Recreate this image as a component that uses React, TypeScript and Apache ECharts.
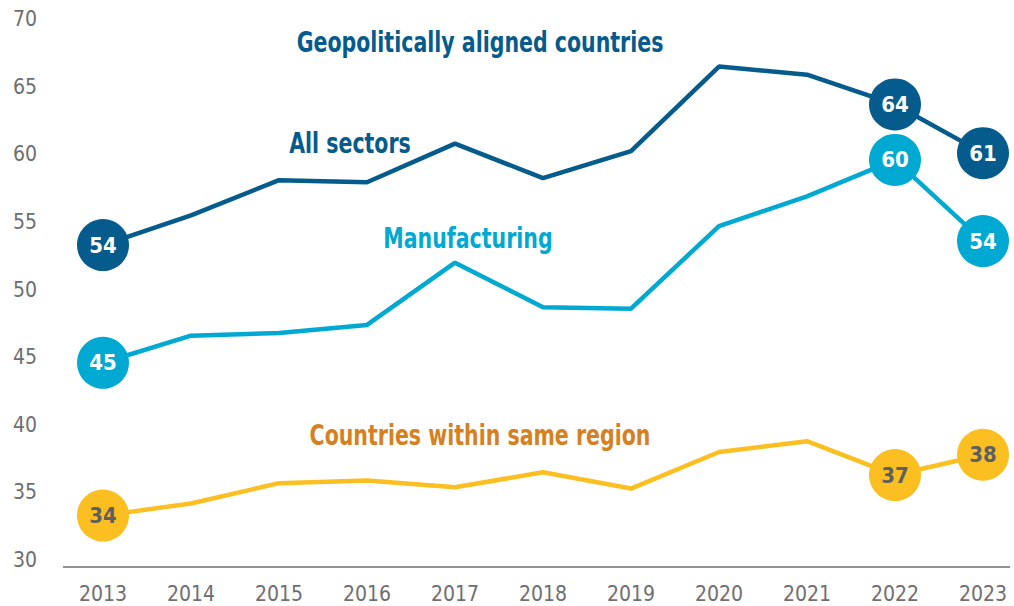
import { useEffect, useRef } from "react";
import * as echarts from "echarts";

const years = ["2013", "2014", "2015", "2016", "2017", "2018", "2019", "2020", "2021", "2022", "2023"];
const allSectors = [53.8, 56.0, 58.6, 58.45, 61.3, 58.75, 60.75, 67.0, 66.4, 64.2, 60.6];
const manufacturing = [45.1, 47.1, 47.3, 47.9, 52.5, 49.2, 49.1, 55.2, 57.4, 60.1, 54.1];
const sameRegion = [33.8, 34.7, 36.2, 36.4, 35.9, 37.0, 35.8, 38.5, 39.3, 36.8, 38.3];
const markedIdx = [0, 9, 10];
const yMin = 30;
const yMax = 70;
const yStep = 5;

const FONT = "'Liberation Sans Narrow', 'DejaVu Sans Condensed', 'Arial Narrow', sans-serif";
const DARK = "#045b8c";
const LIGHT = "#00a9d2";
const YELLOW = "#fbbf22";
const ORANGE = "#d6801f";
const GRAY = "#6d6e71";

function buildData(values: number[], labelColor: string) {
  return values.map((v, i) =>
    markedIdx.includes(i)
      ? {
          value: v,
          symbol: "circle",
          symbolSize: 52,
          label: {
            show: true,
            position: "inside",
            formatter: (p: any) => String(Math.round(p.value)),
            color: labelColor,
            fontFamily: FONT,
            fontWeight: "bold",
            fontSize: 22,
          },
        }
      : { value: v, symbol: "none" }
  );
}

function seriesOf(name: string, values: number[], color: string, labelColor: string, z: number) {
  return {
    name,
    type: "line",
    z,
    data: buildData(values, labelColor),
    lineStyle: { color, width: 4.5 },
    itemStyle: { color },
    emphasis: { disabled: true },
  };
}

function annotation(text: string, x: number, y: number, color: string) {
  return {
    type: "text",
    x,
    y,
    scaleX: 0.815,
    style: {
      text,
      fill: color,
      font: `bold 28px ${FONT}`,
      textAlign: "center",
      textVerticalAlign: "middle",
    },
  };
}

export default function App() {
  const ref = useRef<HTMLDivElement>(null);
  useEffect(() => {
    if (!ref.current) return;
    const chart = echarts.init(ref.current, undefined, { renderer: "svg" });
    chart.setOption({
      animation: false,
      backgroundColor: "#ffffff",
      grid: { left: 103, right: 31, top: 26, bottom: 39, containLabel: false },
      xAxis: {
        type: "category",
        boundaryGap: false,
        data: years,
        axisLine: { show: false },
        axisTick: { show: false },
        axisLabel: { color: GRAY, fontFamily: FONT, fontSize: 21, margin: 16, lineHeight: 21 },
      },
      yAxis: {
        type: "value",
        min: yMin,
        max: yMax,
        interval: yStep,
        splitLine: { show: false },
        axisLine: { show: false },
        axisTick: { show: false },
        axisLabel: {
          color: GRAY,
          fontFamily: FONT,
          fontSize: 21,
          margin: 66,
          verticalAlign: "bottom",
          lineHeight: 14,
        },
      },
      graphic: [
        { type: "line", shape: { x1: 63, y1: 567, x2: 1010, y2: 567 }, style: { stroke: GRAY, lineWidth: 1.5 } },
        annotation("Geopolitically aligned countries", 480, 42, DARK),
        annotation("All sectors", 350, 143, DARK),
        annotation("Manufacturing", 468, 238, LIGHT),
        annotation("Countries within same region", 480, 435, ORANGE),
      ],
      series: [
        seriesOf("Countries within same region", sameRegion, YELLOW, "#5d5f61", 2),
        seriesOf("Manufacturing", manufacturing, LIGHT, "#ffffff", 3),
        seriesOf("All sectors", allSectors, DARK, "#ffffff", 4),
      ],
    });
    return () => chart.dispose();
  }, []);
  return (
    <div
      ref={ref}
      style={{ position: "fixed", left: 0, top: 0, width: 1014, height: 606, background: "#fff" }}
    />
  );
}
